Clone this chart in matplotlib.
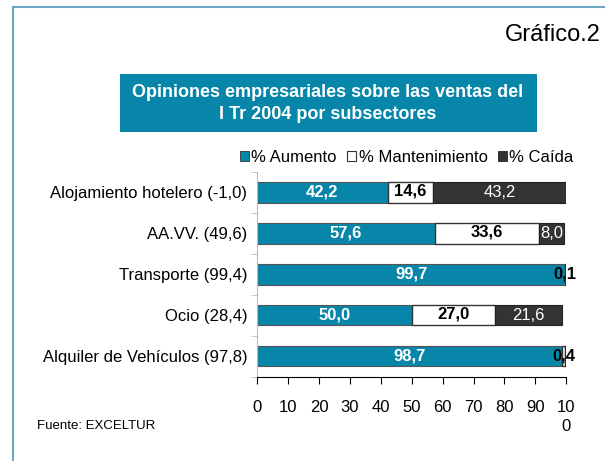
import matplotlib
matplotlib.use('Agg')
import matplotlib.pyplot as plt
from matplotlib.patches import Rectangle, Patch

plt.rcParams['font.family'] = ['Liberation Sans', 'DejaVu Sans']

categorias = ['Alojamiento hotelero (-1,0)', 'AA.VV. (49,6)', 'Transporte (99,4)',
              'Ocio (28,4)', 'Alquiler de Vehículos (97,8)']
aumento = [42.2, 57.6, 99.7, 50.0, 98.7]
mantenimiento = [14.6, 33.6, 0.2, 27.0, 0.9]
caida = [43.2, 8.0, 0.1, 21.6, 0.4]
xticks = [0, 10, 20, 30, 40, 50, 60, 70, 80, 90, 100]
xlabels = ['0', '10', '20', '30', '40', '50', '60', '70', '80', '90', '10\n0']

teal = '#0786a9'
oscuro = '#333333'

fig = plt.figure(figsize=(6.05, 4.61), dpi=100)
ax = fig.add_axes([0.425, 0.183, 0.511, 0.444])

y = list(range(len(categorias)))
h = 0.5
ax.barh(y, aumento, height=h, color=teal, edgecolor='#555555', linewidth=0.8)
left2 = aumento
ax.barh(y, mantenimiento, left=left2, height=h, color='white', edgecolor='#333333', linewidth=1.0)
left3 = [a + m for a, m in zip(aumento, mantenimiento)]
ax.barh(y, caida, left=left3, height=h, color=oscuro, edgecolor='#222222', linewidth=0.8)

fs = 12
for i in y:
    ax.text(aumento[i] / 2, i, f'{aumento[i]:.1f}'.replace('.', ','), color='white',
            fontweight='bold', fontsize=fs, ha='center', va='center')
    if mantenimiento[i] >= 1:
        ax.text(left2[i] + mantenimiento[i] / 2, i - 0.04, f'{mantenimiento[i]:.1f}'.replace('.', ','),
                color='black', fontweight='bold', fontsize=fs, ha='center', va='center')
    if caida[i] >= 1:
        ax.text(left3[i] + caida[i] / 2, i, f'{caida[i]:.1f}'.replace('.', ','), color='white',
                fontsize=fs, ha='center', va='center')
    else:
        ax.text(left3[i] + caida[i] / 2 - 0.5, i, f'{caida[i]:.1f}'.replace('.', ','), color='black',
                fontweight='bold', fontsize=fs, ha='center', va='center')

ax.set_ylim(len(categorias) - 0.5, -0.5)
ax.set_xlim(0, 100)
ax.set_yticks(y)
ax.set_yticklabels(categorias, fontsize=fs)
ax.set_yticks([i - 0.5 for i in range(len(categorias) + 1)], minor=True)
ax.tick_params(axis='y', which='major', length=0, pad=7)
ax.tick_params(axis='y', which='minor', length=4, color='#bbbbbb')
ax.set_xticks(xticks)
ax.set_xticklabels(xlabels, fontsize=fs, va='top', linespacing=1.35)
ax.tick_params(axis='x', length=5, pad=12, color='black')
ax.spines['top'].set_visible(False)
ax.spines['right'].set_visible(False)
ax.spines['left'].set_color('#bbbbbb')
ax.spines['bottom'].set_color('black')

handles = [Patch(facecolor=teal, edgecolor='#333333', linewidth=0.6),
           Patch(facecolor='white', edgecolor='#333333', linewidth=0.8),
           Patch(facecolor=oscuro, edgecolor='#222222', linewidth=0.6)]
fig.legend(handles, ['% Aumento', '% Mantenimiento', '% Caída'], ncol=3, frameon=False,
           loc='center', bbox_to_anchor=(0.672, 0.659), fontsize=fs, handlelength=0.55,
           handleheight=0.55, handletextpad=0.15, columnspacing=0.6)

# caja del título
fig.patches.append(Rectangle((120 / 605, 1 - 132 / 461), 417 / 605, 58 / 461,
                             transform=fig.transFigure, facecolor=teal, edgecolor='none'))
fig.text(328 / 605, 1 - 103.5 / 461, 'Opiniones empresariales sobre las ventas del\nI Tr 2004 por subsectores',
         color='white', fontweight='bold', fontsize=13, ha='center', va='center', linespacing=1.45)
fig.text(0.993, 1 - 35 / 461, 'Gráfico.2', fontsize=17, ha='right', va='center')
fig.text(37 / 605, 1 - 426 / 461, 'Fuente: EXCELTUR', fontsize=9.5, ha='left', va='center')

# marco
fig.add_artist(plt.Line2D([13 / 605, 13 / 605], [0, 1 - 7 / 461], transform=fig.transFigure,
                          color='#6fa6c6', linewidth=1.5))
fig.add_artist(plt.Line2D([13 / 605, 1], [1 - 7 / 461, 1 - 7 / 461], transform=fig.transFigure,
                          color='#6fa6c6', linewidth=1.5))

fig.savefig('out.png', dpi=100)
